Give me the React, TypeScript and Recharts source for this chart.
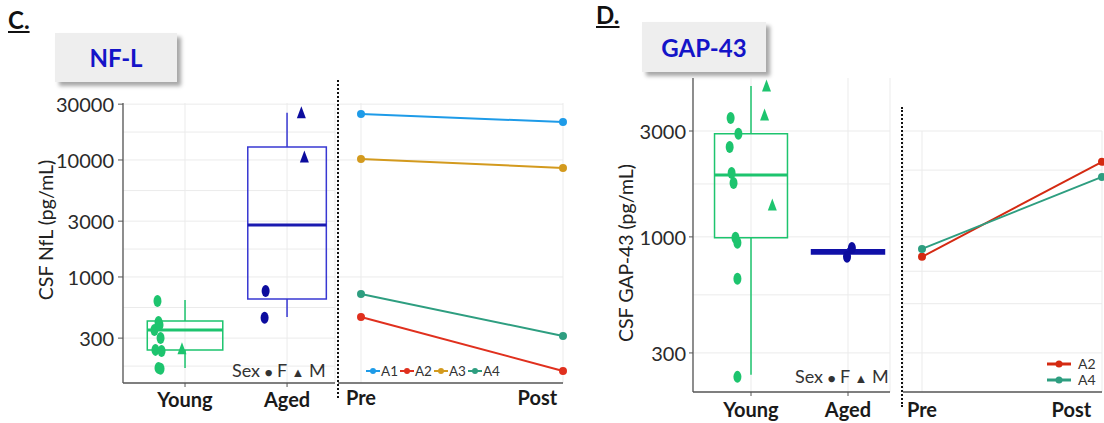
import React from 'react'
import {
  ScatterChart, Scatter, LineChart, Line, XAxis, YAxis, CartesianGrid,
  ReferenceArea, ReferenceLine, Legend
} from 'recharts'

const groups = ['Young', 'Aged']
const timepoints = ['Pre', 'Post']

// box stats: min, q1, median, q3, max
const nflYoungBox = [167, 238, 352, 421, 636]
const nflAgedBox = [455, 649, 2780, 12900, 25300]
const gapYoungBox = [239, 990, 1900, 2913, 4785]
const gapAgedBox = [813, 838, 856, 876, 892]

// individual animals: pos = jittered x (in group units), val = pg/mL
const nflYoungPts = [
  { pos: 0.73, val: 624, sex: 'F' }, { pos: 0.74, val: 412, sex: 'F' },
  { pos: 0.70, val: 352, sex: 'F' }, { pos: 0.75, val: 389, sex: 'F' },
  { pos: 0.76, val: 301, sex: 'F' }, { pos: 0.71, val: 238, sex: 'F' },
  { pos: 0.77, val: 233, sex: 'F' }, { pos: 0.74, val: 167, sex: 'F' },
  { pos: 0.76, val: 164, sex: 'F' }, { pos: 0.97, val: 243, sex: 'M' },
]
const nflAgedPts = [
  { pos: 1.79, val: 759, sex: 'F' }, { pos: 1.78, val: 447, sex: 'F' },
  { pos: 2.14, val: 25300, sex: 'M' }, { pos: 2.17, val: 10600, sex: 'M' },
]
const gapYoungPts = [
  { pos: 0.79, val: 3436, sex: 'F' }, { pos: 0.87, val: 2913, sex: 'F' },
  { pos: 0.78, val: 2541, sex: 'F' }, { pos: 0.80, val: 1942, sex: 'F' },
  { pos: 0.82, val: 1750, sex: 'F' }, { pos: 0.84, val: 990, sex: 'F' },
  { pos: 0.86, val: 940, sex: 'F' }, { pos: 0.86, val: 647, sex: 'F' },
  { pos: 0.86, val: 234, sex: 'F' }, { pos: 1.16, val: 4785, sex: 'M' },
  { pos: 1.14, val: 3545, sex: 'M' }, { pos: 1.22, val: 1393, sex: 'M' },
]
const gapAgedPts = [
  { pos: 2.04, val: 892, sex: 'F' }, { pos: 1.99, val: 813, sex: 'F' },
]

// pre/post per animal
const nflAnimals = ['A1', 'A2', 'A3', 'A4']
const nflPre = [24700, 455, 10200, 716]
const nflPost = [21100, 157, 8550, 313]
const gapAnimals = ['A2', 'A4']
const gapPre = [813, 883]
const gapPost = [2178, 1863]

const nflTicks = [300, 1000, 3000, 10000, 30000]
const nflGrid = [173, 300, 548, 1000, 1732, 3000, 5477, 10000, 17321, 30000]
const nflLineGrid = [1000, 10000, 30000]
const gapTicks = [300, 1000, 3000]
const gapGrid = [300, 548, 1000, 1732, 3000]
const gapLineGrid = [300, 400, 500, 600, 700, 800, 900, 1000, 2000, 3000]

const colors: Record<string, string> = {
  A1: '#1E9BE8', A2: '#E0301E', A3: '#D39A1E', A4: '#2E9E80',
}
const GREEN = '#1DC46E'
const NAVY = '#0C0C9E'
const FONT = 'Lato, "Liberation Sans", sans-serif'
const GRID = '#EBEBEB'
const AXIS = '#555'

const toRows = (animals: string[], pre: number[], post: number[]) =>
  timepoints.map((t, ti) => {
    const row: any = { time: t }
    animals.forEach((a, i) => { row[a] = ti === 0 ? pre[i] : post[i] })
    return row
  })

const Mark = (props: any) => {
  const { cx, cy, payload, color } = props
  if (cx == null || cy == null) return null
  if (payload.sex === 'M')
    return <path d={`M${cx},${cy - 6.5} L${cx + 4.5},${cy + 5.5} L${cx - 4.5},${cy + 5.5} Z`} fill={color} />
  return <ellipse cx={cx} cy={cy} rx={4} ry={6} fill={color} />
}

const boxParts = (key: string, center: number, stats: number[], half: number, stroke: string, median: string, fill = 'none') => {
  const [mn, q1, md, q3, mx] = stats
  return [
    <ReferenceLine key={key + 'wl'} segment={[{ x: center, y: mn }, { x: center, y: q1 }]} stroke={stroke} strokeWidth={1.5} />,
    <ReferenceLine key={key + 'wu'} segment={[{ x: center, y: q3 }, { x: center, y: mx }]} stroke={stroke} strokeWidth={1.5} />,
    <ReferenceArea key={key + 'b'} x1={center - half} x2={center + half} y1={q1} y2={q3} fill={fill} fillOpacity={1} stroke={stroke} strokeWidth={1.5} />,
    <ReferenceLine key={key + 'm'} segment={[{ x: center - half, y: md }, { x: center + half, y: md }]} stroke={median} strokeWidth={3} />,
  ]
}

const GroupTick = (props: any) => {
  const { x, y, payload, dy } = props
  return (
    <text x={x} y={y + dy} textAnchor="middle" fontFamily={FONT} fontWeight={700} fontSize={20} fill="#1a1a1a">
      {groups[payload.value - 1]}
    </text>
  )
}

const TimeTick = (props: any) => {
  const { x, y, payload, dy } = props
  const post = payload.value === 'Post'
  return (
    <text x={post ? x + 1 : x} y={y + dy} textAnchor={post ? 'end' : 'middle'} fontFamily={FONT} fontWeight={700} fontSize={20} fill="#1a1a1a">
      {payload.value}
    </text>
  )
}

const ValueTick = (props: any) => {
  const { x, y, payload } = props
  return (
    <text x={x} y={y} textAnchor="end" dominantBaseline="central" fontFamily={FONT} fontSize={20} fill="#2a2a2a">
      {payload.value}
    </text>
  )
}

const YTitle = (props: any) => {
  const { viewBox, value, dx, dy } = props
  const x = viewBox.x + dx
  const y = viewBox.y + viewBox.height / 2 + dy
  return (
    <text x={x} y={y} transform={`rotate(-90 ${x} ${y})`} textAnchor="middle" dominantBaseline="central"
      fontFamily={FONT} fontSize={19.5} fill="#222">
      {value}
    </text>
  )
}

const LineLegend = (props: any) => {
  const { payload, vertical } = props
  return (
    <div style={{ display: 'flex', flexDirection: vertical ? 'column' : 'row', gap: vertical ? 1 : 2, fontFamily: FONT, fontSize: vertical ? 14 : 13.5, color: '#333' }}>
      {(payload || []).map((p: any) => (
        <div key={p.value} style={{ display: 'flex', alignItems: 'center', height: vertical ? 15 : 14 }}>
          <svg width={vertical ? 24 : 14} height={8} style={{ marginRight: vertical ? 7 : 1 }}>
            <line x1={0} x2={vertical ? 24 : 14} y1={4} y2={4} stroke={p.color} strokeWidth={vertical ? 3 : 2} />
            <circle cx={vertical ? 12 : 7} cy={4} r={vertical ? 3.5 : 3} fill={p.color} />
          </svg>
          <span>{p.value}</span>
        </div>
      ))}
    </div>
  )
}

const SexKey = ({ left, top }: { left: number, top: number }) => (
  <div style={{ position: 'absolute', left, top, fontFamily: FONT, fontSize: 18, color: '#333', whiteSpace: 'nowrap', lineHeight: '20px' }}>
    Sex <span style={{ fontSize: 13 }}>●</span> F <span style={{ fontSize: 13 }}>▲</span> M
  </div>
)

const TitleBox = ({ left, top, width, height, text }: any) => (
  <div style={{
    position: 'absolute', left, top, width, height, background: '#EEEEEE',
    boxShadow: '4px 4px 4px rgba(0,0,0,0.35)', display: 'flex', alignItems: 'center', justifyContent: 'center',
    fontFamily: FONT, fontWeight: 700, fontSize: 24, color: '#1414C8'
  }}>{text}</div>
)

const Letter = ({ left, top, text }: any) => (
  <div style={{ position: 'absolute', left, top, fontFamily: FONT, fontWeight: 700, fontSize: 24, textDecoration: 'underline', color: '#111' }}>{text}</div>
)

const Dotted = ({ left, top, height }: any) => (
  <div style={{ position: 'absolute', left, top, height, borderLeft: '2px dotted #111' }} />
)

export default function App() {
  const nflRows = toRows(nflAnimals, nflPre, nflPost)
  const gapRows = toRows(gapAnimals, gapPre, gapPost)
  const nflDomain: [number, number] = [124, 30700]
  const gapDomain: [number, number] = [200, 5200]

  return (
    <div style={{ position: 'absolute', left: 0, top: 0, width: 1104, height: 423, background: '#fff', overflow: 'hidden' }}>
      <Letter left={8} top={5} text="C." />
      <TitleBox left={55} top={33} width={122} height={49} text="NF-L" />
      <Letter left={596} top={0} text="D." />
      <TitleBox left={642} top={22} width={124} height={50} text="GAP-43" />

      {/* C: box plot */}
      <div style={{ position: 'absolute', left: 0, top: 0 }}>
        <ScatterChart width={340} height={423} margin={{ top: 103, right: 5, bottom: 10, left: 63 }}>
          <CartesianGrid stroke={GRID} horizontalValues={nflGrid} />
          <XAxis type="number" dataKey="pos" domain={[0.392, 2.47]} ticks={[1, 2]} allowDataOverflow height={30}
            axisLine={{ stroke: AXIS, strokeWidth: 1.3 }} tickLine={{ stroke: AXIS }} tickSize={4}
            tick={<GroupTick dy={18} />} />
          <YAxis type="number" dataKey="val" scale="log" domain={nflDomain} allowDataOverflow ticks={nflTicks} width={60}
            axisLine={{ stroke: AXIS, strokeWidth: 1.3 }} tickLine={{ stroke: AXIS }} tickSize={5} tickMargin={4}
            tick={<ValueTick />} label={<YTitle value="CSF NfL (pg/mL)" dx={-18} dy={-13} />} />
          {boxParts('ny', 1, nflYoungBox, 0.37, GREEN, GREEN)}
          {boxParts('na', 2, nflAgedBox, 0.385, '#3838D2', '#1A1AB0')}
          <Scatter data={nflYoungPts} isAnimationActive={false} shape={(p: any) => <Mark {...p} color={GREEN} />} />
          <Scatter data={nflAgedPts} isAnimationActive={false} shape={(p: any) => <Mark {...p} color={NAVY} />} />
        </ScatterChart>
      </div>
      <SexKey left={232} top={360} />

      {/* C: pre/post */}
      <div style={{ position: 'absolute', left: 330, top: 0 }}>
        <LineChart width={240} height={423} data={nflRows} margin={{ top: 103, right: 7, bottom: 10, left: 8 }}>
          <CartesianGrid stroke={GRID} horizontalValues={nflLineGrid} />
          <XAxis dataKey="time" padding={{ left: 23, right: 0 }} height={30}
            axisLine={{ stroke: AXIS, strokeWidth: 1.3 }} tickLine={false}
            tick={<TimeTick dy={14} />} />
          <YAxis hide type="number" scale="log" domain={nflDomain} allowDataOverflow />
          {nflAnimals.map(a => (
            <Line key={a} dataKey={a} name={a} stroke={colors[a]} strokeWidth={2}
              dot={{ r: 3, fill: colors[a], stroke: colors[a] }} isAnimationActive={false} />
          ))}
          <Legend verticalAlign="middle" align="center" content={<LineLegend />}
            wrapperStyle={{ left: 36, top: 364, width: 'auto', height: 'auto' }} />
        </LineChart>
      </div>
      <Dotted left={337} top={80} height={318} />

      {/* D: box plot */}
      <div style={{ position: 'absolute', left: 600, top: 0 }}>
        <ScatterChart width={300} height={423} margin={{ top: 78, right: 10, bottom: 6, left: 33 }}>
          <CartesianGrid stroke={GRID} horizontalValues={gapGrid} />
          <XAxis type="number" dataKey="pos" domain={[0.402, 2.433]} ticks={[1, 2]} allowDataOverflow height={25}
            axisLine={{ stroke: AXIS, strokeWidth: 1.3 }} tickLine={{ stroke: AXIS }} tickSize={4}
            tick={<GroupTick dy={19} />} />
          <YAxis type="number" dataKey="val" scale="log" domain={gapDomain} allowDataOverflow ticks={gapTicks} width={60}
            axisLine={{ stroke: AXIS, strokeWidth: 1.3 }} tickLine={{ stroke: AXIS }} tickSize={4} tickMargin={3}
            tick={<ValueTick />} label={<YTitle value="CSF GAP-43 (pg/mL)" dx={-8} dy={18} />} />
          {boxParts('gy', 1, gapYoungBox, 0.376, GREEN, GREEN)}
          {boxParts('ga', 2, gapAgedBox, 0.376, '#1010A8', '#1010A8', '#1010A8')}
          <Scatter data={gapYoungPts} isAnimationActive={false} shape={(p: any) => <Mark {...p} color={GREEN} />} />
          <Scatter data={gapAgedPts} isAnimationActive={false} shape={(p: any) => <Mark {...p} color={NAVY} />} />
        </ScatterChart>
      </div>
      <SexKey left={795} top={366} />

      {/* D: pre/post */}
      <div style={{ position: 'absolute', left: 895, top: 0 }}>
        <LineChart width={209} height={423} data={gapRows} margin={{ top: 131, right: 2, bottom: 6, left: 8 }}>
          <CartesianGrid stroke={GRID} horizontalValues={gapLineGrid} />
          <XAxis dataKey="time" padding={{ left: 19, right: 0 }} height={25}
            axisLine={{ stroke: AXIS, strokeWidth: 1.3 }} tickLine={false}
            tick={<TimeTick dy={17} />} />
          <YAxis hide type="number" scale="log" domain={[200, 3000]} allowDataOverflow />
          {gapAnimals.map(a => (
            <Line key={a} dataKey={a} name={a} stroke={a === 'A2' ? '#D42A12' : colors[a]} strokeWidth={2}
              dot={{ r: 3, fill: a === 'A2' ? '#D42A12' : colors[a], stroke: a === 'A2' ? '#D42A12' : colors[a] }} isAnimationActive={false} />
          ))}
          <Legend verticalAlign="middle" align="center" content={<LineLegend vertical />}
            wrapperStyle={{ left: 152, top: 356, width: 'auto', height: 'auto' }} />
        </LineChart>
      </div>
      <Dotted left={901} top={107} height={300} />
    </div>
  )
}
